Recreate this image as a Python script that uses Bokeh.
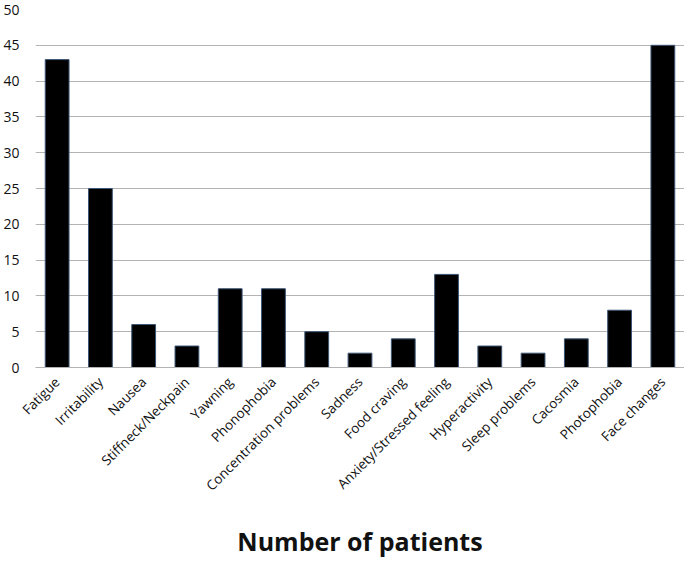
import math
from bokeh.plotting import figure
from bokeh.models import ColumnDataSource, FixedTicker
from bokeh.embed import file_html
from bokeh.resources import INLINE

categories = ["Fatigue", "Irritability", "Nausea", "Stiffneck/Neckpain", "Yawning",
              "Phonophobia", "Concentration problems", "Sadness", "Food craving",
              "Anxiety/Stressed feeling", "Hyperactivity", "Sleep problems",
              "Cacosmia", "Photophobia", "Face changes"]
patients = [43, 25, 6, 3, 11, 11, 5, 2, 4, 13, 3, 2, 4, 8, 45]
y_ticks = [0, 5, 10, 15, 20, 25, 30, 35, 40, 45, 50]
x_title = "Number of patients"

src = ColumnDataSource(dict(cat=categories, n=patients))

p = figure(x_range=categories, y_range=(0, 50), width=684, height=560,
           output_backend="svg", toolbar_location=None,
           min_border_left=30, min_border_right=0, min_border_top=9,
           min_border_bottom=184)

p.vbar(x="cat", top="n", width=0.55, source=src,
       fill_color="black", line_color="#3d5675", line_width=1)

p.outline_line_color = None
p.xgrid.grid_line_color = None
p.ygrid.grid_line_color = "#b3b3b3"
p.ygrid.grid_line_width = 1

p.yaxis.ticker = FixedTicker(ticks=y_ticks)
p.yaxis.axis_line_color = None
p.yaxis.major_tick_line_color = None
p.yaxis.minor_tick_line_color = None
p.yaxis.major_label_text_font = "Open Sans"
p.yaxis.major_label_text_font_size = "14px"
p.yaxis.major_label_text_color = "#111111"
p.yaxis.major_label_standoff = 10

p.xaxis.axis_line_color = "#b3b3b3"
p.xaxis.major_tick_line_color = None
p.xaxis.minor_tick_line_color = None
p.xaxis.major_label_orientation = math.pi / 4
p.xaxis.major_label_text_font = "Open Sans"
p.xaxis.major_label_text_font_size = "13.5px"
p.xaxis.major_label_text_color = "#111111"
p.xaxis.major_label_standoff = 6
p.xaxis.axis_label = x_title
p.xaxis.axis_label_text_font = "Open Sans"
p.xaxis.axis_label_text_font_style = "bold"
p.xaxis.axis_label_text_font_size = "25px"
p.xaxis.axis_label_text_color = "#111111"
p.xaxis.axis_label_standoff = 20

open("out.html", "w").write(file_html(p, INLINE))
